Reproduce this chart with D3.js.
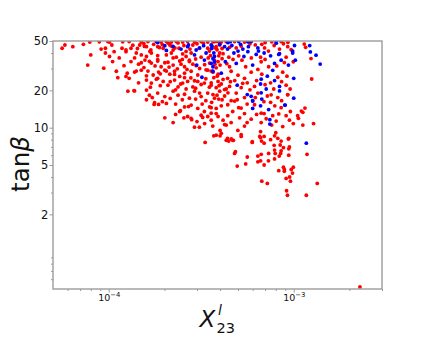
<!DOCTYPE html>
<meta charset="utf-8">
<script src="https://d3js.org/d3.v7.min.js"></script>
<style>
  body { margin: 0; background: #fff; }
  svg text { font-family: "DejaVu Sans", sans-serif; fill: #111; }
</style>
<body>
<div id="chart"></div>
<script>
    // x values are given in units of 1e-4, tan(beta) as is
    var xUnit = 1e-4;

    var redPts = [
        [0.56,43.7],[0.58,46.4],[0.64,45],[0.73,47],[0.79,49],[0.89,49.2],[0.80,38.6],[0.77,32],[0.91,43],[0.96,43.7],
        [0.99,49.5],[1.01,49],[0.96,40],[1.01,37.5],[0.94,30.2],[1.04,46.4],[1.07,41],[1.05,34.1],[1.14,36.5],[1.19,49.3],
        [1.18,43.7],[1.24,42.3],[1.24,41],[1.21,31.6],[1.29,49.5],[1.32,43.7],[1.10,28.5],[1.12,25.3],[1.26,27.5],[1.24,25.9],
        [1.29,25],[1.27,19.7],[1.37,19.9],[1.38,28.1],[1.32,34.1],[1.41,40],[1.47,46.4],[1.45,32.5],[1.50,49],[1.50,38.6],
        [1.50,29.1],[1.57,35.1],[1.60,45],[1.60,37.5],[1.63,49.5],[1.63,28.6],[1.60,24.2],[1.60,20.1],[1.66,18.3],[1.69,42.3],
        [1.70,40],[1.70,33.2],[1.74,26.6],[1.70,22.9],[1.76,15.4],[1.84,45],[1.84,38.1],[1.84,34.5],[1.86,28.1],[1.84,25],
        [1.84,19],[1.86,15.4],[1.92,49],[1.97,43.7],[1.92,31],[1.97,23.6],[2.01,29.1],[2.01,17.8],[2.01,12],[2.05,49.5],
        [2.05,38.6],[2.09,33.7],[2.09,22],[2.05,15.7],[2.14,46.4],[2.14,27],[2.18,49],[2.18,40],[2.23,42.3],[2.23,32],
        [2.23,19.7],[2.23,11],[2.27,28.5],[2.27,24.2],[2.32,49.5],[2.32,37],[2.37,21.3],[2.37,18.3],[2.40,43.7],[2.42,34.5],
        [2.42,25.9],[2.42,13.5],[2.51,49],[2.51,39.3],[2.57,31],[2.57,27.5],[2.51,22.9],[2.57,18.6],[2.57,14.7],[2.62,37.5],
        [2.67,49.5],[2.73,34.1],[2.67,23.6],[2.73,17.3],[2.67,12.3],[2.79,40],[2.79,28.5],[2.79,15.2],[2.79,11.9],[2.85,46.4],
        [2.85,32.5],[2.85,21.3],[2.91,49],[2.91,19.7],[2.91,10.1],[3.03,26.6],[3.03,23.6],[3.03,14.3],[3.09,43.7],[3.09,10.1],
        [3.16,49.5],[3.16,37],[3.16,17.8],[3.16,12.6],[3.29,22.9],[3.29,13.5],[3.43,49],[3.43,43.7],[3.43,29.1],[3.43,19],
        [3.43,12.3],[3.51,33.2],[3.51,14.7],[3.55,38.1],[3.58,22],[3.58,11.5],[3.73,49.5],[3.81,45],[3.90,34.1],[3.90,27],
        [3.90,23.6],[3.73,17.3],[3.81,14.3],[3.90,12.3],[3.70,8.6],[3.81,8.7],[3.32,7.6],[3.98,49],[3.98,40],[3.98,19.7],
        [3.66,49.3],[3.86,49.6],[4.06,49],[4.32,49.4],[4.79,49.5],[5.42,49],[7.61,49.3],[8.55,49.5],[11.4,47.2],[11.6,44.5],
        [3.76,44],[3.98,46.5],[4.89,44],[6.72,47],[6.96,44],[7.84,46],[8.38,43],[9.28,45],[9.68,42.5],
        [3.93,38],[4.15,39.5],[4.46,37],[5.04,38],[6.62,37],[9.10,37],
        [3.73,35],[4.00,32],[4.50,31],[5.25,35],[6.67,34],[7.32,31],[9.95,34],[12.4,36.1],
        [3.66,28],[3.86,26],[4.39,25],[4.59,28.5],[5.00,26.5],[5.42,25],[5.89,28],[6.72,27],[8.20,25.5],[8.72,28],[9.19,26],[12.5,24.7],
        [3.58,23],[3.81,21],[4.06,22.5],[4.32,20.5],[4.55,23.5],[5.20,21],[5.61,23],[6.14,21.5],[7.50,23],[9.10,22],[9.56,20.5],
        [3.66,18.5],[3.93,17],[4.23,18],[4.59,16.5],[4.89,19],[5.42,17.5],[6.40,19],[7.20,18],[7.50,16],[8.20,17.5],[9.28,18.5],
        [3.58,14.5],[3.81,13],[4.06,15],[4.68,13.5],[5.04,14.5],[5.42,13],[6.92,13],[7.70,12.5],[8.55,14.5],[9.59,13.5],[10.5,12.5],[11.2,13.3],
        [4.15,11.5],[4.32,10.5],[4.59,11],[5.42,10.3],[5.89,11.7],[6.67,11],[8.04,11.3],[8.72,10.2],[9.48,11.5],[9.95,10.8],[10.6,11.9],[11.2,10.5],[12.8,10.8],
        [4.06,9],[4.39,8.2],[4.68,7.9],[5.20,8.8],[5.97,7.6],[6.62,8.3],[6.92,7.5],[7.88,8.6],[8.55,7.8],[9.36,8.1],
        [4.84,6.4],[5.61,5.8],[6.40,5.9],[6.67,6.1],[7.32,6.2],[7.88,6.6],[8.55,6.5],[9.48,7.0],[11.8,6.1],
        [4.0,8.6],[4.32,7.9],[4.45,7.8],[4.6,8.1],[4.72,7.9],[5.2,8.5],[4.79,6.2],[4.95,4.9],[5.5,5.1],[5.97,7.7],
        [6.40,5.3],[6.62,5.4],[6.92,5.0],[6.62,9.3],[6.55,8.5],[6.92,8.5],[6.7,7.8],[7.5,8.0],[7.3,5.4],[7.88,5.6],
        [7.94,6.2],[7.84,7.2],[8.2,8.2],[8.0,9.1],[8.45,7.25],[8.8,6.9],[8.5,6.2],[8.35,5.9],[9.4,6.75],[9.4,6.0],
        [8.8,4.8],[8.9,4.6],[8.9,4.45],[8.3,4.5],[9.1,3.9],[9.5,4.0],[9.6,3.7],[9.7,4.6],[9.95,4.8],[9.85,4.3],
        [6.72,3.7],[7.2,3.55],[9.15,3.1],[9.25,2.85],[9.4,8.2],[13.4,3.55],[11.7,2.85],[22.8,0.52],
        [1.38,19.8],[1.60,16.8],[1.77,15.9],[2.44,13.7],[2.81,11.6],[3.22,12.1],[3.58,13.1],[4.0,9.5],
        [1.35,46.3],[1.43,43.5],[1.56,45.2],[1.67,41.2],[1.88,44.3],[2.18,45.5],[2.37,48.2],[2.62,41.2],[1.38,36.5],[1.50,33.4],
        [1.66,34.3],[1.84,35.3],[2.01,33.4],[2.23,36.5],[2.46,32.5],[2.73,35],[2.97,31.6],[3.36,29.3],[3.81,30.4],[1.41,28.6],
        [1.60,26.2],[1.81,24.6],[2.05,28.6],[2.27,26.9],[2.57,25.3],[2.91,23.9],[3.16,22.3],[3.58,28.6],
        [4.23,20.3],[4.41,19.1],[4.79,16.4],[5.2,14.4],[6.14,15.3],[6.67,13.1],[7.55,18.4],[9.28,18.4],[11.0,13.6],[11.5,14.4],
        [4.23,10.6],[4.99,9.5],
        [1.55,47.5],[1.75,47],[1.95,46.8],[2.1,48],[2.28,44],[2.55,46],[2.75,43],[3.0,47.5],[3.25,48],[3.5,41.5],
        [3.85,42.5],[4.1,43.5],[4.5,44.5],[5.2,45.5],[5.8,47.5],[6.2,46.5],[7.0,48.5],[7.3,41.5],[8.8,47.5],[9.3,48.8],
        [1.55,30.5],[1.78,31.5],[1.9,27.2],[2.12,30.8],[2.35,29.8],[2.5,35.5],[2.65,29.5],[2.95,35.8],[3.1,30],[3.3,32.2],
        [3.45,36.5],[3.75,32.5],[4.1,36],[4.35,32.8],[4.7,35.5],[5.5,31],[5.9,36.5],[6.4,29.5],[7.0,35.5],[8.1,31.5],[8.9,33.5],
        [1.45,23],[1.68,21.2],[1.9,21.8],[2.15,23.5],[2.3,20.2],[2.45,22.5],[2.62,20.5],[2.78,25.2],[2.95,20.8],[3.1,19],
        [3.35,24.8],[3.5,21.2],[3.7,25.3],[3.95,21.8],[4.15,24.5],[4.5,21.5],[4.8,24],[5.3,22.8],[5.8,20.2],[6.3,24],
        [7.0,22.2],[7.8,20.5],[8.6,23.5],
        [1.72,17.5],[1.95,16.2],[2.15,17.2],[2.3,15.5],[2.5,16.8],[2.7,14.8],[2.95,17],[3.2,15.5],[3.35,16.5],[3.6,16],
        [3.85,18.3],[4.1,16.8],[4.4,15.3],[4.95,16.8],[5.6,15.5],[6.2,17.5],[6.9,16.2],[7.9,15],[8.6,16.5],
        [2.3,12.8],[2.55,12],[3.0,11.2],[3.3,10.8],[3.65,10.3],[4.4,12.5],[5.1,12],[5.6,11],[6.3,12.8],[7.1,11.8],
        [7.6,10.5],[8.3,12.9],[9.1,12.5]
    ];

    var bluePts = [
        [1.81,49.5],[2.01,45.8],[2.46,43],[2.67,45],[2.97,42.3],[3.26,45.8],[3.58,46.4],[3.98,47],[2.91,38.6],[3.36,40],
        [3.73,37.5],[2.99,32],[3.29,35.1],[3.66,31],[3.19,25.5],[3.66,28.5],
        [4.54,49.4],[5.04,49.5],[5.65,49.2],[5.89,49.6],[8.04,49.4],
        [3.62,45.5],[4.23,45],[4.39,43],[4.63,46],[5.16,47],[5.31,43],[5.69,45],[6.40,44],[10.1,46],
        [3.70,40],[4.75,40],[5.38,37.5],[5.65,41],[6.27,39],[6.92,40],[7.50,38],[8.38,39.5],[9.87,40],
        [3.58,33],[4.27,34],[4.89,33],[6.00,32],[7.88,33],[8.55,35],[9.36,32],
        [4.06,27.5],[7.20,26],[7.70,29],[10.0,25],
        [4.95,22],[6.62,22.5],[7.10,20.5],[8.38,21.5],
        [5.61,18.5],[6.00,16.5],[6.72,17],[10.0,17.3],
        [6.00,14.3],[6.62,15],[7.32,14],[9.00,15.2],
        [7.43,10.7],[11.7,7.5],
        [12.2,45.9],[12.3,40.8],[13.2,38.4],[13.9,32.6],
        [4.41,48.5],[5.0,41.5],[6.45,41.5],[8.05,48],[8.3,39],[9.87,41.5],[10.2,35],[7.88,24],[6.67,24.6],
        [5.89,17.9],[6.0,16.4],[7.43,11.6],[8.94,15.2],[8.38,19.8],[6.67,19.1],
        [1.84,48.6],[2.05,42],[2.23,45.2],[2.7,46.5],[3.1,44],[3.6,43.5],[3.66,36],[3.73,34]
    ];

    var yTicks = [2, 5, 10, 20, 50];
    var yMinorTicks = [0.6, 0.7, 0.8, 0.9, 3, 4, 6, 7, 8, 9, 30, 40];
    var xTicks = [1e-4, 1e-3];
    var xTickExp = ["\u22124", "\u22123"];
    var xMinorTicks = [6e-5, 7e-5, 8e-5, 9e-5, 2e-4, 3e-4, 4e-4, 5e-4, 6e-4, 7e-4, 8e-4, 9e-4, 2e-3, 3e-3];

    var width = 425, height = 342;
    var plotL = 53, plotR = 382, plotT = 41, plotB = 289;
    var frameColor = "#9c9c9c";

    var svg = d3.select("#chart").append("svg")
        .attr("width", width)
        .attr("height", height);

    var x = d3.scaleLog().domain([5e-5, 3e-3]).range([plotL, plotR]);
    var y = d3.scaleLog().domain([0.5, 50]).range([plotB, plotT]);

    svg.append("clipPath").attr("id", "plotclip")
        .append("rect")
        .attr("x", plotL).attr("y", plotT)
        .attr("width", plotR - plotL).attr("height", plotB - plotT);

    var pts = svg.append("g").attr("clip-path", "url(#plotclip)");

    pts.selectAll("circle.red")
        .data(redPts)
        .enter().append("circle")
        .attr("class", "red")
        .attr("cx", function (d) { return x(d[0] * xUnit) })
        .attr("cy", function (d) { return y(d[1]) })
        .attr("r", 1.9)
        .style("fill", "#ff0000");

    pts.selectAll("circle.blue")
        .data(bluePts)
        .enter().append("circle")
        .attr("class", "blue")
        .attr("cx", function (d) { return x(d[0] * xUnit) })
        .attr("cy", function (d) { return y(d[1]) })
        .attr("r", 1.9)
        .style("fill", "#0000ff");

    // minor ticks
    var xMinor = svg.append("g")
        .attr("transform", "translate(0," + plotB + ")")
        .call(d3.axisBottom(x).tickValues(xMinorTicks).tickSize(2).tickFormat(""));
    var yMinor = svg.append("g")
        .attr("transform", "translate(" + plotL + ",0)")
        .call(d3.axisLeft(y).tickValues(yMinorTicks).tickSize(2).tickFormat(""));
    [xMinor, yMinor].forEach(function (g) {
        g.select(".domain").remove();
        g.selectAll("text").remove();
        g.selectAll("line").attr("stroke", frameColor);
    });

    // major ticks
    var yAxis = svg.append("g")
        .attr("transform", "translate(" + plotL + ",0)")
        .call(d3.axisLeft(y).tickValues(yTicks).tickSize(3.5).tickPadding(1.2)
            .tickFormat(function (d) { return d; }));
    yAxis.select(".domain").remove();
    yAxis.selectAll("line").attr("stroke", frameColor);
    yAxis.selectAll("text").style("font-size", "11.5px");

    var xAxis = svg.append("g")
        .attr("transform", "translate(0," + plotB + ")")
        .call(d3.axisBottom(x).tickValues(xTicks).tickSize(3.5).tickPadding(1.8).tickFormat(""));
    xAxis.select(".domain").remove();
    xAxis.selectAll("line").attr("stroke", frameColor);
    xAxis.selectAll(".tick text").each(function (d, i) {
        var t = d3.select(this).style("font-size", "9.5px");
        t.append("tspan").text("10");
        t.append("tspan").attr("dy", -4).style("font-size", "6.8px").text(xTickExp[i]);
    });

    // frame
    svg.append("rect")
        .attr("x", plotL).attr("y", plotT)
        .attr("width", plotR - plotL).attr("height", plotB - plotT)
        .attr("fill", "none")
        .attr("stroke", frameColor)
        .attr("stroke-width", 1.4);

    // axis labels
    var yl = svg.append("text")
        .attr("transform", "translate(28.5," + ((plotT + plotB) / 2 - 1) + ") rotate(-90)")
        .attr("text-anchor", "middle")
        .style("font-size", "24.5px");
    yl.append("tspan").text("tan");
    yl.append("tspan").style("font-style", "italic").text("\u03b2");

    svg.append("text")
        .attr("x", 207.5).attr("y", 327)
        .attr("text-anchor", "middle")
        .style("font-size", "23px").style("font-style", "italic")
        .text("X");
    svg.append("text")
        .attr("x", 218).attr("y", 315)
        .style("font-size", "14px").style("font-style", "italic")
        .text("l");
    svg.append("text")
        .attr("x", 216.5).attr("y", 333)
        .style("font-size", "14.5px")
        .text("23");
</script>
</body>
